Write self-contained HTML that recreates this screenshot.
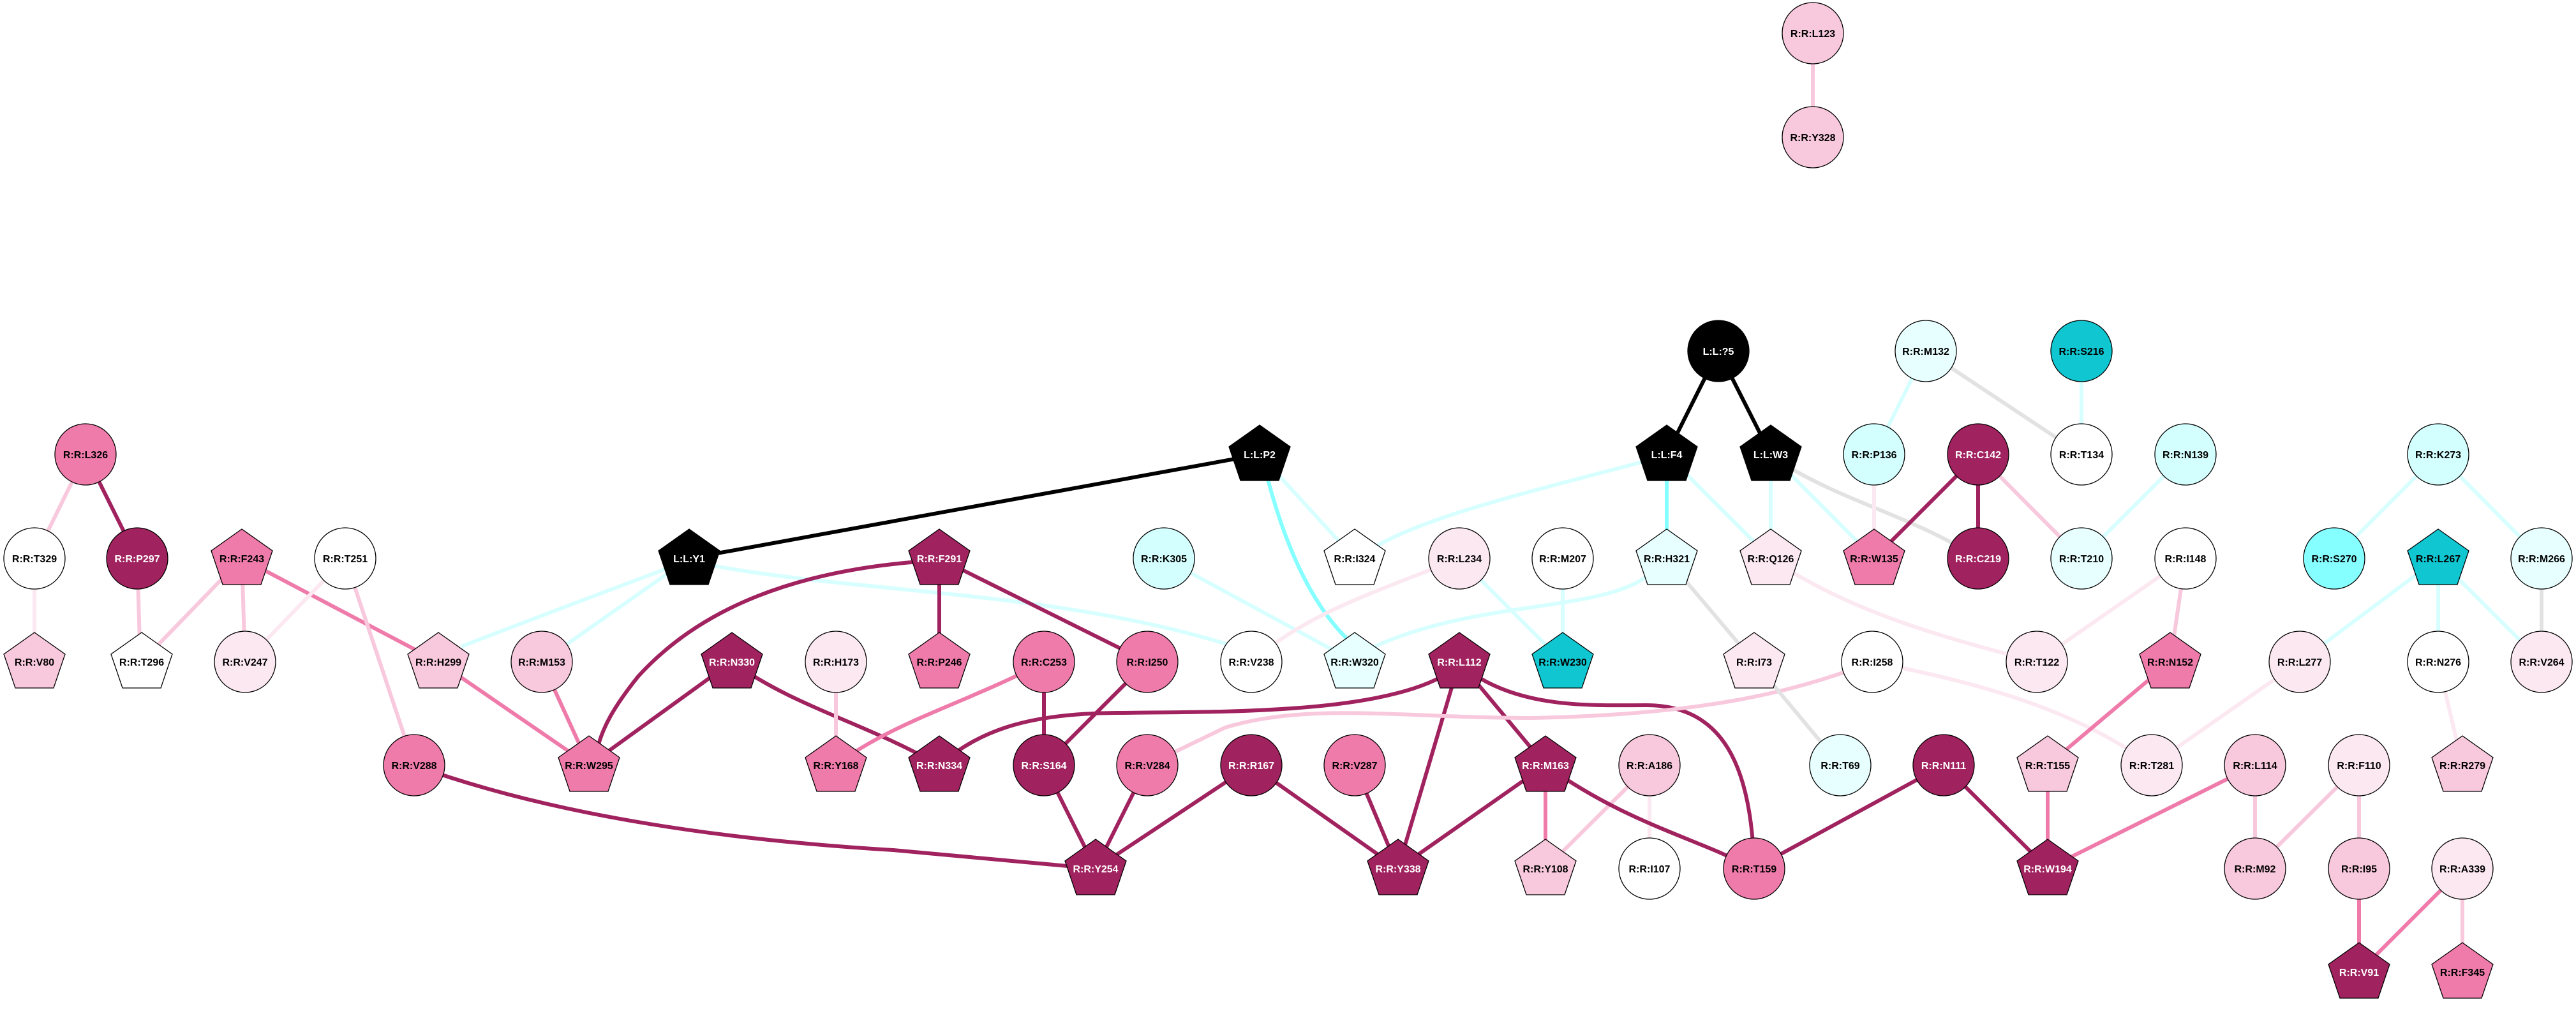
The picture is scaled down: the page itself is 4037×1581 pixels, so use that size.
<!DOCTYPE html>
<html><head><meta charset="utf-8"><style>
html,body{margin:0;padding:0;background:#fff;}
svg{display:block;}
text{font-family:"Liberation Sans",Arial,sans-serif;font-weight:bold;font-size:16px;text-anchor:middle;}
.e{fill:none;stroke-width:6;}
.D{stroke:#A0225E}.M{stroke:#EF7BAA}.L{stroke:#F8C8DC}.V{stroke:#FBE8F0}.C{stroke:#D8FFFF}.C2{stroke:#85FFFF}.G{stroke:#E2E2E2}.K{stroke:#000}
.n{stroke:#000;stroke-width:1.3}
</style></head><body>
<svg width="4037" height="1581" viewBox="0 0 4037 1581" xmlns="http://www.w3.org/2000/svg">
<!-- edges -->
<g>
<line class="e L" x1="2841" y1="52" x2="2841" y2="215"/>
<line class="e K" x1="2693" y1="550" x2="2612" y2="712"/>
<line class="e K" x1="2693" y1="550" x2="2775" y2="712"/>
<line class="e K" x1="1974" y1="712" x2="1080" y2="875"/>
<path class="e C" d="M1974 712 L2123 875"/>
<path class="e C2" d="M1984 740 Q2030 920 2110 1000"/>
<path class="e C" d="M2573 724 C2400 770 2230 810 2150 860"/>
<line class="e C2" x1="2612" y1="712" x2="2612" y2="875"/>
<line class="e C" x1="2612" y1="712" x2="2775" y2="875"/>
<line class="e C" x1="2775" y1="712" x2="2775" y2="875"/>
<line class="e C" x1="2775" y1="712" x2="2937" y2="875"/>
<path class="e G" d="M2800 730 C2900 790 3000 810 3100 875"/>
<line class="e C" x1="3018" y1="550" x2="2937" y2="712"/>
<line class="e G" x1="3018" y1="550" x2="3262" y2="712"/>
<line class="e C" x1="3262" y1="550" x2="3262" y2="712"/>
<line class="e V" x1="2937" y1="712" x2="2937" y2="875"/>
<line class="e D" x1="3100" y1="712" x2="2937" y2="875"/>
<line class="e D" x1="3100" y1="712" x2="3100" y2="875"/>
<line class="e L" x1="3100" y1="712" x2="3262" y2="875"/>
<line class="e C" x1="3425" y1="712" x2="3262" y2="875"/>
<line class="e C" x1="3821" y1="712" x2="3658" y2="875"/>
<line class="e C" x1="3821" y1="712" x2="3983" y2="875"/>
<line class="e C" x1="3821" y1="875" x2="3604" y2="1037"/>
<line class="e C" x1="3821" y1="875" x2="3821" y2="1037"/>
<line class="e C" x1="3821" y1="875" x2="3983" y2="1037"/>
<line class="e G" x1="3983" y1="875" x2="3983" y2="1037"/>
<line class="e V" x1="3821" y1="1037" x2="3859" y2="1199"/>
<line class="e L" x1="134" y1="712" x2="54" y2="875"/>
<line class="e D" x1="134" y1="712" x2="215" y2="875"/>
<line class="e V" x1="54" y1="875" x2="54" y2="1037"/>
<line class="e L" x1="215" y1="875" x2="220" y2="1037"/>
<line class="e L" x1="379" y1="875" x2="222" y2="1037"/>
<line class="e L" x1="379" y1="875" x2="384" y2="1037"/>
<line class="e M" x1="379" y1="875" x2="687" y2="1037"/>
<line class="e V" x1="541" y1="875" x2="384" y2="1037"/>
<line class="e L" x1="541" y1="875" x2="649" y2="1199"/>
<path class="e C" d="M1045 891 Q860 960 723 1013"/>
<line class="e C" x1="1080" y1="875" x2="849" y2="1037"/>
<path class="e C" d="M1110 885 C1350 930 1650 925 1925 1010"/>
<path class="e D" d="M1440 880 C1250 895 1100 950 1000 1060 C960 1110 945 1140 937 1170"/>
<line class="e D" x1="1472" y1="875" x2="1472" y2="1037"/>
<line class="e D" x1="1472" y1="875" x2="1798" y2="1037"/>
<line class="e M" x1="687" y1="1037" x2="923" y2="1199"/>
<line class="e M" x1="849" y1="1037" x2="923" y2="1199"/>
<line class="e D" x1="1147" y1="1037" x2="923" y2="1199"/>
<path class="e D" d="M1147 1037 C1250 1110 1350 1130 1472 1199"/>
<line class="e L" x1="1310" y1="1037" x2="1310" y2="1199"/>
<path class="e M" d="M1636 1037 C1520 1100 1400 1130 1310 1199"/>
<line class="e D" x1="1636" y1="1037" x2="1636" y2="1199"/>
<line class="e D" x1="1798" y1="1037" x2="1636" y2="1199"/>
<line class="e C" x1="1824" y1="875" x2="2123" y2="1037"/>
<path class="e V" d="M2287 875 C2150 930 2050 960 1961 1037"/>
<line class="e C" x1="2287" y1="875" x2="2449" y2="1037"/>
<line class="e C" x1="2449" y1="875" x2="2449" y2="1037"/>
<path class="e C" d="M2578 905 C2500 960 2300 940 2140 1020"/>
<line class="e G" x1="2612" y1="875" x2="2749" y2="1037"/>
<path class="e D" d="M2260 1060 C2150 1120 1900 1115 1750 1117 C1620 1118 1540 1140 1472 1199"/>
<line class="e D" x1="2287" y1="1037" x2="2191" y2="1361"/>
<line class="e D" x1="2287" y1="1037" x2="2422" y2="1199"/>
<path class="e D" d="M2320 1063 C2400 1110 2500 1105 2580 1105 C2700 1105 2745 1200 2749 1361"/>
<path class="e L" d="M2934 1037 C2800 1090 2650 1120 2400 1125 C2200 1125 2050 1100 1920 1140 L1798 1199"/>
<path class="e V" d="M2934 1037 C3100 1070 3250 1110 3372 1199"/>
<path class="e V" d="M2775 875 C2900 960 3050 1000 3192 1037"/>
<line class="e V" x1="3425" y1="875" x2="3192" y2="1037"/>
<line class="e L" x1="3425" y1="875" x2="3401" y2="1037"/>
<line class="e M" x1="3401" y1="1037" x2="3209" y2="1199"/>
<line class="e M" x1="3209" y1="1199" x2="3209" y2="1361"/>
<line class="e V" x1="3604" y1="1037" x2="3372" y2="1199"/>
<line class="e G" x1="2749" y1="1037" x2="2884" y2="1199"/>
<path class="e D" d="M649 1199 C900 1290 1200 1320 1400 1332 L1717 1361"/>
<line class="e D" x1="1636" y1="1199" x2="1717" y2="1361"/>
<line class="e D" x1="1798" y1="1199" x2="1717" y2="1361"/>
<line class="e D" x1="1961" y1="1199" x2="1717" y2="1361"/>
<line class="e D" x1="1961" y1="1199" x2="2191" y2="1361"/>
<line class="e D" x1="2123" y1="1199" x2="2191" y2="1361"/>
<line class="e D" x1="2422" y1="1199" x2="2191" y2="1361"/>
<line class="e M" x1="2422" y1="1199" x2="2422" y2="1361"/>
<line class="e L" x1="2585" y1="1199" x2="2422" y2="1361"/>
<line class="e V" x1="2585" y1="1199" x2="2585" y2="1361"/>
<path class="e D" d="M2422 1199 C2550 1290 2650 1310 2749 1361"/>
<line class="e D" x1="3046" y1="1199" x2="2749" y2="1361"/>
<line class="e D" x1="3046" y1="1199" x2="3209" y2="1361"/>
<line class="e M" x1="3534" y1="1199" x2="3209" y2="1361"/>
<line class="e L" x1="3534" y1="1199" x2="3534" y2="1361"/>
<line class="e L" x1="3697" y1="1199" x2="3534" y2="1361"/>
<line class="e L" x1="3697" y1="1199" x2="3697" y2="1361"/>
<line class="e M" x1="3697" y1="1361" x2="3697" y2="1523"/>
<line class="e M" x1="3859" y1="1361" x2="3697" y2="1523"/>
<line class="e L" x1="3859" y1="1361" x2="3859" y2="1523"/>
</g>
<!-- nodes -->
<g>
<g transform="translate(2841,52)"><circle class="n" r="48" fill="#F8C8DC"/><text y="6">R:R:L123</text></g>
<g transform="translate(2841,215)"><circle class="n" r="48" fill="#F8C8DC"/><text y="6">R:R:Y328</text></g>
<g transform="translate(2693,550)"><circle class="n" r="48" fill="#000"/><text y="6" fill="#fff">L:L:?5</text></g>
<g transform="translate(3018,550)"><circle class="n" r="48" fill="#E8FFFF"/><text y="6">R:R:M132</text></g>
<g transform="translate(3262,550)"><circle class="n" r="48" fill="#10C6D0"/><text y="6">R:R:S216</text></g>
<g transform="translate(1974,712)"><polygon class="n" points="0,-46 48,-12 30,41 -30,41 -48,-12" fill="#000"/><text y="6" fill="#fff">L:L:P2</text></g>
<g transform="translate(2612,712)"><polygon class="n" points="0,-46 48,-12 30,41 -30,41 -48,-12" fill="#000"/><text y="6" fill="#fff">L:L:F4</text></g>
<g transform="translate(2775,712)"><polygon class="n" points="0,-46 48,-12 30,41 -30,41 -48,-12" fill="#000"/><text y="6" fill="#fff">L:L:W3</text></g>
<g transform="translate(134,712)"><circle class="n" r="48" fill="#EF7BAA"/><text y="6">R:R:L326</text></g>
<g transform="translate(2937,712)"><circle class="n" r="48" fill="#D4FFFF"/><text y="6">R:R:P136</text></g>
<g transform="translate(3100,712)"><circle class="n" r="48" fill="#A0225E"/><text y="6" fill="#fff">R:R:C142</text></g>
<g transform="translate(3262,712)"><circle class="n" r="48" fill="#fff"/><text y="6">R:R:T134</text></g>
<g transform="translate(3425,712)"><circle class="n" r="48" fill="#D4FFFF"/><text y="6">R:R:N139</text></g>
<g transform="translate(3821,712)"><circle class="n" r="48" fill="#D4FFFF"/><text y="6">R:R:K273</text></g>

<g transform="translate(54,875)"><circle class="n" r="48" fill="#fff"/><text y="6">R:R:T329</text></g>
<g transform="translate(215,875)"><circle class="n" r="48" fill="#A0225E"/><text y="6" fill="#fff">R:R:P297</text></g>
<g transform="translate(379,875)"><polygon class="n" points="0,-46 48,-12 30,41 -30,41 -48,-12" fill="#EF7BAA"/><text y="6">R:R:F243</text></g>
<g transform="translate(541,875)"><circle class="n" r="48" fill="#fff"/><text y="6">R:R:T251</text></g>
<g transform="translate(1080,875)"><polygon class="n" points="0,-46 48,-12 30,41 -30,41 -48,-12" fill="#000"/><text y="6" fill="#fff">L:L:Y1</text></g>
<g transform="translate(1472,875)"><polygon class="n" points="0,-46 48,-12 30,41 -30,41 -48,-12" fill="#A0225E"/><text y="6" fill="#fff">R:R:F291</text></g>
<g transform="translate(1824,875)"><circle class="n" r="48" fill="#D4FFFF"/><text y="6">R:R:K305</text></g>
<g transform="translate(2123,875)"><polygon class="n" points="0,-46 48,-12 30,41 -30,41 -48,-12" fill="#fff"/><text y="6">R:R:I324</text></g>
<g transform="translate(2287,875)"><circle class="n" r="48" fill="#FBE8F0"/><text y="6">R:R:L234</text></g>
<g transform="translate(2449,875)"><circle class="n" r="48" fill="#fff"/><text y="6">R:R:M207</text></g>
<g transform="translate(2612,875)"><polygon class="n" points="0,-46 48,-12 30,41 -30,41 -48,-12" fill="#E8FFFF"/><text y="6">R:R:H321</text></g>
<g transform="translate(2775,875)"><polygon class="n" points="0,-46 48,-12 30,41 -30,41 -48,-12" fill="#FBE8F0"/><text y="6">R:R:Q126</text></g>
<g transform="translate(2937,875)"><polygon class="n" points="0,-46 48,-12 30,41 -30,41 -48,-12" fill="#EF7BAA"/><text y="6">R:R:W135</text></g>
<g transform="translate(3100,875)"><circle class="n" r="48" fill="#A0225E"/><text y="6" fill="#fff">R:R:C219</text></g>
<g transform="translate(3262,875)"><circle class="n" r="48" fill="#E8FFFF"/><text y="6">R:R:T210</text></g>
<g transform="translate(3425,875)"><circle class="n" r="48" fill="#fff"/><text y="6">R:R:I148</text></g>
<g transform="translate(3658,875)"><circle class="n" r="48" fill="#85FFFF"/><text y="6">R:R:S270</text></g>
<g transform="translate(3821,875)"><polygon class="n" points="0,-46 48,-12 30,41 -30,41 -48,-12" fill="#10C6D0"/><text y="6">R:R:L267</text></g>
<g transform="translate(3983,875)"><circle class="n" r="48" fill="#E8FFFF"/><text y="6">R:R:M266</text></g>

<g transform="translate(54,1037)"><polygon class="n" points="0,-46 48,-12 30,41 -30,41 -48,-12" fill="#F8C8DC"/><text y="6">R:R:V80</text></g>
<g transform="translate(222,1037)"><polygon class="n" points="0,-46 48,-12 30,41 -30,41 -48,-12" fill="#fff"/><text y="6">R:R:T296</text></g>
<g transform="translate(384,1037)"><circle class="n" r="48" fill="#FBE8F0"/><text y="6">R:R:V247</text></g>
<g transform="translate(687,1037)"><polygon class="n" points="0,-46 48,-12 30,41 -30,41 -48,-12" fill="#F8C8DC"/><text y="6">R:R:H299</text></g>
<g transform="translate(849,1037)"><circle class="n" r="48" fill="#F8C8DC"/><text y="6">R:R:M153</text></g>
<g transform="translate(1147,1037)"><polygon class="n" points="0,-46 48,-12 30,41 -30,41 -48,-12" fill="#A0225E"/><text y="6" fill="#fff">R:R:N330</text></g>
<g transform="translate(1310,1037)"><circle class="n" r="48" fill="#FBE8F0"/><text y="6">R:R:H173</text></g>
<g transform="translate(1472,1037)"><polygon class="n" points="0,-46 48,-12 30,41 -30,41 -48,-12" fill="#EF7BAA"/><text y="6">R:R:P246</text></g>
<g transform="translate(1636,1037)"><circle class="n" r="48" fill="#EF7BAA"/><text y="6">R:R:C253</text></g>
<g transform="translate(1798,1037)"><circle class="n" r="48" fill="#EF7BAA"/><text y="6">R:R:I250</text></g>
<g transform="translate(1961,1037)"><circle class="n" r="48" fill="#fff"/><text y="6">R:R:V238</text></g>
<g transform="translate(2123,1037)"><polygon class="n" points="0,-46 48,-12 30,41 -30,41 -48,-12" fill="#E8FFFF"/><text y="6">R:R:W320</text></g>
<g transform="translate(2287,1037)"><polygon class="n" points="0,-46 48,-12 30,41 -30,41 -48,-12" fill="#A0225E"/><text y="6" fill="#fff">R:R:L112</text></g>
<g transform="translate(2449,1037)"><polygon class="n" points="0,-46 48,-12 30,41 -30,41 -48,-12" fill="#10C6D0"/><text y="6">R:R:W230</text></g>
<g transform="translate(2749,1037)"><polygon class="n" points="0,-46 48,-12 30,41 -30,41 -48,-12" fill="#FBE8F0"/><text y="6">R:R:I73</text></g>
<g transform="translate(2934,1037)"><circle class="n" r="48" fill="#fff"/><text y="6">R:R:I258</text></g>
<g transform="translate(3192,1037)"><circle class="n" r="48" fill="#FBE8F0"/><text y="6">R:R:T122</text></g>
<g transform="translate(3401,1037)"><polygon class="n" points="0,-46 48,-12 30,41 -30,41 -48,-12" fill="#EF7BAA"/><text y="6">R:R:N152</text></g>
<g transform="translate(3604,1037)"><circle class="n" r="48" fill="#FBE8F0"/><text y="6">R:R:L277</text></g>
<g transform="translate(3821,1037)"><circle class="n" r="48" fill="#fff"/><text y="6">R:R:N276</text></g>
<g transform="translate(3983,1037)"><circle class="n" r="48" fill="#FBE8F0"/><text y="6">R:R:V264</text></g>

<g transform="translate(649,1199)"><circle class="n" r="48" fill="#EF7BAA"/><text y="6">R:R:V288</text></g>
<g transform="translate(923,1199)"><polygon class="n" points="0,-46 48,-12 30,41 -30,41 -48,-12" fill="#EF7BAA"/><text y="6">R:R:W295</text></g>
<g transform="translate(1310,1199)"><polygon class="n" points="0,-46 48,-12 30,41 -30,41 -48,-12" fill="#EF7BAA"/><text y="6">R:R:Y168</text></g>
<g transform="translate(1472,1199)"><polygon class="n" points="0,-46 48,-12 30,41 -30,41 -48,-12" fill="#A0225E"/><text y="6" fill="#fff">R:R:N334</text></g>
<g transform="translate(1636,1199)"><circle class="n" r="48" fill="#A0225E"/><text y="6" fill="#fff">R:R:S164</text></g>
<g transform="translate(1798,1199)"><circle class="n" r="48" fill="#EF7BAA"/><text y="6">R:R:V284</text></g>
<g transform="translate(1961,1199)"><circle class="n" r="48" fill="#A0225E"/><text y="6" fill="#fff">R:R:R167</text></g>
<g transform="translate(2123,1199)"><circle class="n" r="48" fill="#EF7BAA"/><text y="6">R:R:V287</text></g>
<g transform="translate(2422,1199)"><polygon class="n" points="0,-46 48,-12 30,41 -30,41 -48,-12" fill="#A0225E"/><text y="6" fill="#fff">R:R:M163</text></g>
<g transform="translate(2585,1199)"><circle class="n" r="48" fill="#F8C8DC"/><text y="6">R:R:A186</text></g>
<g transform="translate(2884,1199)"><circle class="n" r="48" fill="#E8FFFF"/><text y="6">R:R:T69</text></g>
<g transform="translate(3046,1199)"><circle class="n" r="48" fill="#A0225E"/><text y="6" fill="#fff">R:R:N111</text></g>
<g transform="translate(3209,1199)"><polygon class="n" points="0,-46 48,-12 30,41 -30,41 -48,-12" fill="#F8C8DC"/><text y="6">R:R:T155</text></g>
<g transform="translate(3372,1199)"><circle class="n" r="48" fill="#FBE8F0"/><text y="6">R:R:T281</text></g>
<g transform="translate(3534,1199)"><circle class="n" r="48" fill="#F8C8DC"/><text y="6">R:R:L114</text></g>
<g transform="translate(3697,1199)"><circle class="n" r="48" fill="#FBE8F0"/><text y="6">R:R:F110</text></g>
<g transform="translate(3859,1199)"><polygon class="n" points="0,-46 48,-12 30,41 -30,41 -48,-12" fill="#F8C8DC"/><text y="6">R:R:R279</text></g>

<g transform="translate(1717,1361)"><polygon class="n" points="0,-46 48,-12 30,41 -30,41 -48,-12" fill="#A0225E"/><text y="6" fill="#fff">R:R:Y254</text></g>
<g transform="translate(2191,1361)"><polygon class="n" points="0,-46 48,-12 30,41 -30,41 -48,-12" fill="#A0225E"/><text y="6" fill="#fff">R:R:Y338</text></g>
<g transform="translate(2422,1361)"><polygon class="n" points="0,-46 48,-12 30,41 -30,41 -48,-12" fill="#F8C8DC"/><text y="6">R:R:Y108</text></g>
<g transform="translate(2585,1361)"><circle class="n" r="48" fill="#fff"/><text y="6">R:R:I107</text></g>
<g transform="translate(2749,1361)"><circle class="n" r="48" fill="#EF7BAA"/><text y="6">R:R:T159</text></g>
<g transform="translate(3209,1361)"><polygon class="n" points="0,-46 48,-12 30,41 -30,41 -48,-12" fill="#A0225E"/><text y="6" fill="#fff">R:R:W194</text></g>
<g transform="translate(3534,1361)"><circle class="n" r="48" fill="#F8C8DC"/><text y="6">R:R:M92</text></g>
<g transform="translate(3697,1361)"><circle class="n" r="48" fill="#F8C8DC"/><text y="6">R:R:I95</text></g>
<g transform="translate(3859,1361)"><circle class="n" r="48" fill="#FBE8F0"/><text y="6">R:R:A339</text></g>

<g transform="translate(3697,1523)"><polygon class="n" points="0,-46 48,-12 30,41 -30,41 -48,-12" fill="#A0225E"/><text y="6" fill="#fff">R:R:V91</text></g>
<g transform="translate(3859,1523)"><polygon class="n" points="0,-46 48,-12 30,41 -30,41 -48,-12" fill="#EF7BAA"/><text y="6">R:R:F345</text></g>
</g>
</svg>
</body></html>
